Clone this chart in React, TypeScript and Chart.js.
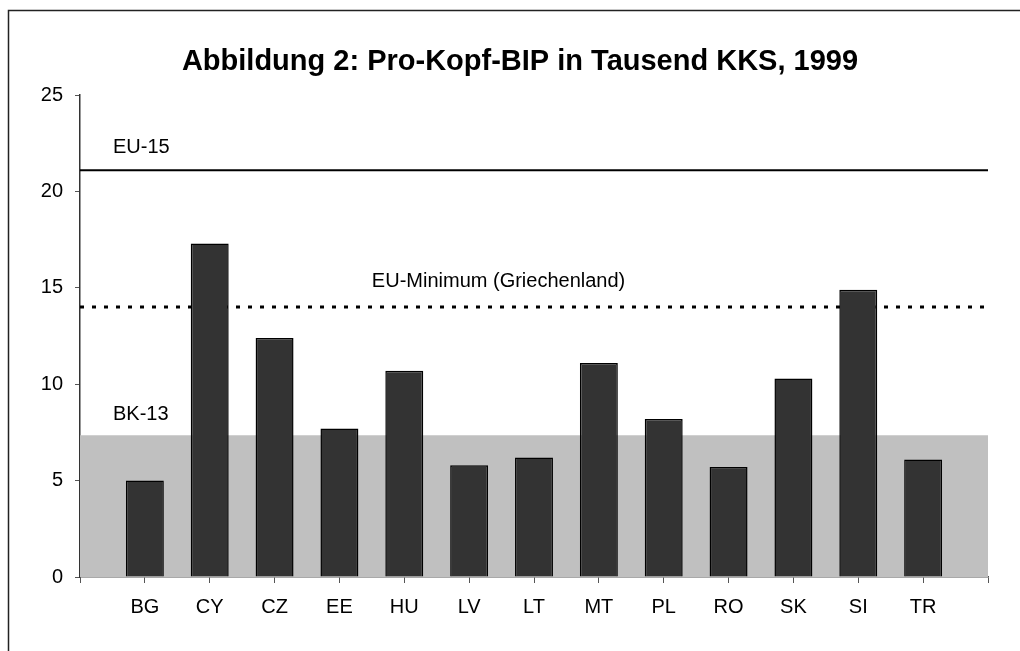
import React, { useEffect, useRef } from "react";
import { Chart, registerables } from "chart.js";

Chart.register(...registerables);

const categories = ["BG", "CY", "CZ", "EE", "HU", "LV", "LT", "MT", "PL", "RO", "SK", "SI", "TR"];
const gdpValues = [5.0, 17.3, 12.4, 7.7, 10.7, 5.8, 6.2, 11.1, 8.2, 5.7, 10.3, 14.9, 6.1];
const eu15Level = 21.1;
const euMinimumLevel = 14.0;
const bk13Level = 7.35;
const yTicks = [0, 5, 10, 15, 20, 25];
const titleText = "Abbildung 2: Pro-Kopf-BIP in Tausend KKS, 1999";
const eu15Label = "EU-15";
const euMinLabel = "EU-Minimum (Griechenland)";
const bk13Label = "BK-13";

const FONT = "'Liberation Sans', Arial, sans-serif";

export default function App() {
  const ref = useRef<HTMLCanvasElement | null>(null);

  useEffect(() => {
    const canvas = ref.current;
    if (!canvas) return;
    const labels = ["", ...categories, ""];
    const full = (v: number) => labels.map(() => v);

    const decor = {
      id: "decor",
      afterDraw(chart: any) {
        const ctx = chart.ctx;
        const { left } = chart.chartArea;
        const y = chart.scales.y;
        const x = chart.scales.x;
        ctx.save();
        // frame
        ctx.strokeStyle = "#222";
        ctx.lineWidth = 1.5;
        ctx.beginPath();
        ctx.moveTo(8.5, 700);
        ctx.lineTo(8.5, 10.5);
        ctx.lineTo(1100, 10.5);
        ctx.stroke();
        // title
        ctx.fillStyle = "#000";
        ctx.font = `bold 29px ${FONT}`;
        ctx.textAlign = "center";
        ctx.textBaseline = "alphabetic";
        ctx.fillText(titleText, 520, 70);
        // labels
        ctx.font = `20px ${FONT}`;
        ctx.textAlign = "left";
        ctx.textBaseline = "middle";
        ctx.fillText(eu15Label, left + 33, y.getPixelForValue(eu15Level) - 23);
        ctx.fillText(bk13Label, left + 33, y.getPixelForValue(bk13Level) - 21);
        ctx.fillText(euMinLabel, x.getPixelForValue(4.5), y.getPixelForValue(euMinimumLevel) - 26);
        ctx.restore();
      },
    };

    const chart = new Chart(canvas, {
      type: "bar",
      data: {
        labels,
        datasets: [
          {
            type: "bar",
            data: [null, ...gdpValues, null] as any,
            backgroundColor: "#333333",
            borderColor: "#000000",
            borderWidth: 1.5,
            barPercentage: 0.585,
            categoryPercentage: 1,
            order: 0,
          },
          {
            type: "line",
            data: full(bk13Level),
            fill: "origin",
            backgroundColor: "#c0c0c0",
            borderWidth: 0,
            pointRadius: 0,
            order: 5,
          } as any,
          {
            type: "line",
            data: full(eu15Level),
            fill: false,
            borderColor: "#000000",
            borderWidth: 2,
            pointRadius: 0,
            order: 1,
          } as any,
          {
            type: "line",
            data: full(euMinimumLevel),
            fill: false,
            borderColor: "#000000",
            borderWidth: 3,
            borderDash: [4, 8],
            pointRadius: 0,
            order: 1,
          } as any,
        ],
      },
      options: {
        animation: false,
        responsive: false,
        maintainAspectRatio: false,
        layout: { padding: { top: 95, right: 32, left: 0, bottom: 0 } },
        plugins: { legend: { display: false }, tooltip: { enabled: false }, title: { display: false } },
        scales: {
          x: {
            type: "category",
            offset: false,
            grid: { offset: false, drawOnChartArea: false, drawTicks: true, tickLength: 6, color: "#555", lineWidth: 1 },
            border: { color: "#555", width: 1.5 },
            ticks: { color: "#000", font: { family: FONT, size: 20 }, padding: 12, autoSkip: false, maxRotation: 0 },
            afterFit: (s: any) => { s.height = 74; },
          },
          y: {
            min: 0,
            max: 25,
            afterBuildTicks: (s: any) => { s.ticks = yTicks.map((v) => ({ value: v })); },
            grid: { drawOnChartArea: false, drawTicks: true, tickLength: 5, color: "#555", lineWidth: 1 },
            border: { color: "#333", width: 1.5 },
            ticks: { color: "#000", font: { family: FONT, size: 20 }, padding: 12 },
            afterFit: (s: any) => { s.width = 80; },
          },
        },
      },
      plugins: [decor],
    } as any);
    return () => chart.destroy();
  }, []);

  return (
    <div style={{ position: "absolute", left: 0, top: 0, width: 1020, height: 651, background: "#fff" }}>
      <canvas ref={ref} width={1020} height={651} style={{ display: "block" }} />
    </div>
  );
}
